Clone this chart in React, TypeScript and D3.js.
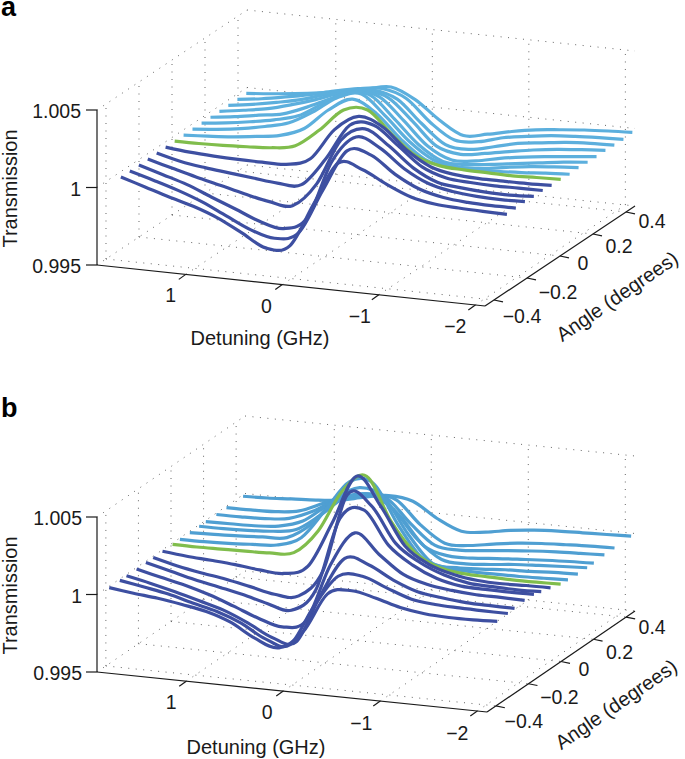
import * as d3 from "d3";

// detuning grid of each panel (GHz)
const detuningA = [1.8, 1.55, 1.3, 1.05, 0.8, 0.55, 0.3, 0.05, -0.2, -0.45, -0.7, -0.95, -1.2, -1.45, -1.7, -1.95, -2.2];
const detuningB = [1.85, 1.6, 1.35, 1.1, 0.85, 0.6, 0.35, 0.1, -0.15, -0.4, -0.65, -0.9, -1.15, -1.4, -1.65, -1.9, -2.15];

const anglesA = [-0.38, -0.326, -0.271, -0.217, -0.163, -0.109, -0.054, 0, 0.054, 0.109, 0.163, 0.217, 0.271, 0.326, 0.38];
const anglesB = [-0.421, -0.356, -0.315, -0.253, -0.196, -0.151, -0.094, -0.032, 0.013, 0.074, 0.131, 0.172, 0.237, 0.299, 0.401];

// transmission per curve, as (T - 1) x 1000, front curve first
const transmissionA = [
  [0.23, -0.25, -0.73, -1.17, -1.75, -2.54, -3.36, -3.06, -0.17, 2.6, 2.36, 1.58, 0.93, 0.62, 0.53, 0.48, 0.45],
  [0.23, -0.21, -0.69, -1.27, -2.01, -2.73, -3.12, -2.6, 0.31, 3.01, 2.9, 1.82, 1.04, 0.66, 0.51, 0.46, 0.47],
  [0.23, -0.23, -0.71, -1.34, -1.95, -2.58, -2.89, -1.99, 1.77, 3.51, 2.96, 1.8, 1.01, 0.66, 0.51, 0.46, 0.5],
  [0.23, -0.19, -0.6, -0.97, -1.35, -1.68, -1.79, -0.22, 2.76, 3.66, 2.71, 1.47, 0.71, 0.51, 0.4, 0.37, 0.45],
  [0.23, -0.15, -0.38, -0.55, -0.72, -0.88, -0.82, 1.0, 3.34, 3.51, 2.36, 1.15, 0.6, 0.47, 0.42, 0.44, 0.45],
  [0.23, 0.07, -0.02, -0.07, -0.08, -0.06, 0.47, 2.51, 3.53, 3.01, 1.67, 0.76, 0.43, 0.34, 0.34, 0.35, 0.39],
  [0.23, 0.24, 0.28, 0.36, 0.46, 0.75, 1.93, 3.39, 3.55, 2.15, 0.92, 0.44, 0.35, 0.32, 0.29, 0.35, 0.39],
  [0.23, 0.33, 0.45, 0.64, 0.87, 1.48, 2.84, 3.71, 2.93, 1.46, 0.32, -0.03, 0.0, 0.04, 0.12, 0.25, 0.34],
  [0.23, 0.39, 0.6, 0.9, 1.3, 2.17, 3.25, 3.65, 2.39, 0.9, -0.11, -0.38, -0.32, -0.09, 0.12, 0.27, 0.39],
  [0.23, 0.41, 0.65, 0.94, 1.36, 2.3, 3.18, 3.17, 1.81, 0.32, -0.59, -0.63, -0.45, -0.24, -0.03, 0.18, 0.34],
  [0.23, 0.43, 0.69, 0.94, 1.54, 2.26, 2.86, 2.7, 1.34, -0.15, -0.89, -0.78, -0.45, -0.2, -0.01, 0.16, 0.32],
  [0.23, 0.46, 0.73, 1.15, 1.64, 2.22, 2.56, 2.25, 0.91, -0.54, -0.9, -0.68, -0.4, -0.13, 0.08, 0.22, 0.34],
  [0.23, 0.46, 0.75, 1.09, 1.58, 2.0, 2.21, 1.78, 0.39, -0.82, -0.97, -0.63, -0.25, -0.05, 0.14, 0.25, 0.3],
  [0.23, 0.43, 0.71, 1.03, 1.41, 1.74, 1.91, 1.43, 0.05, -0.92, -0.86, -0.44, -0.19, 0.02, 0.14, 0.22, 0.28],
  [0.23, 0.37, 0.54, 0.75, 1.02, 1.33, 1.63, 0.98, -0.17, -1.01, -0.76, -0.42, -0.15, 0.02, 0.17, 0.27, 0.34],
];

const transmissionB = [
  [0.25, 0.05, -0.12, -0.36, -0.65, -1.18, -2.05, -2.51, -1.3, 1.29, 1.65, 1.33, 0.89, 0.65, 0.57, 0.58, 0.64],
  [0.25, -0.02, -0.31, -0.73, -1.11, -1.7, -2.56, -2.79, -0.14, 1.96, 2.12, 1.53, 0.98, 0.78, 0.72, 0.69, 0.68],
  [0.25, -0.08, -0.46, -0.88, -1.32, -1.98, -2.76, -2.88, 0.29, 2.82, 2.55, 1.74, 1.15, 0.92, 0.77, 0.73, 0.72],
  [0.25, -0.13, -0.48, -0.94, -1.51, -2.11, -2.52, -1.93, 1.82, 4.02, 2.79, 1.66, 1.17, 0.95, 0.83, 0.82, 0.79],
  [0.25, -0.13, -0.52, -0.84, -1.17, -1.58, -1.86, -0.41, 4.38, 5.08, 2.98, 1.85, 1.15, 0.82, 0.77, 0.75, 0.77],
  [0.25, -0.13, -0.42, -0.66, -0.98, -1.31, -1.26, 0.52, 5.58, 5.03, 2.77, 1.7, 1.05, 0.69, 0.62, 0.58, 0.62],
  [0.25, 0.09, -0.01, -0.13, -0.31, -0.38, 0.25, 3.21, 6.38, 4.6, 2.19, 1.16, 0.68, 0.45, 0.4, 0.45, 0.46],
  [0.25, 0.24, 0.27, 0.3, 0.34, 0.52, 2.08, 4.82, 5.93, 3.2, 1.32, 0.52, 0.29, 0.24, 0.21, 0.22, 0.25],
  [0.25, 0.26, 0.31, 0.41, 0.53, 1.16, 3.11, 5.1, 5.11, 2.62, 0.64, 0.19, 0.1, 0.09, 0.1, 0.15, 0.21],
  [0.25, 0.3, 0.36, 0.45, 0.57, 1.59, 3.37, 4.28, 3.8, 1.59, -0.12, -0.24, -0.18, -0.06, -0.01, 0.09, 0.14],
  [0.25, 0.26, 0.31, 0.41, 0.68, 1.77, 3.05, 3.42, 2.62, 0.84, -0.29, -0.41, -0.29, -0.13, -0.03, 0.06, 0.14],
  [0.25, 0.28, 0.31, 0.45, 0.94, 2.07, 2.83, 3.08, 1.91, 0.13, -0.35, -0.34, -0.2, -0.09, 0.01, 0.09, 0.14],
  [0.25, 0.26, 0.31, 0.48, 1.11, 2.05, 2.46, 2.45, 0.96, -0.28, -0.44, -0.32, -0.16, -0.02, 0.08, 0.15, 0.21],
  [0.25, 0.26, 0.31, 0.52, 1.17, 1.83, 2.08, 1.87, 0.42, -0.6, -0.59, -0.34, -0.12, 0.02, 0.1, 0.17, 0.21],
  [0.25, 0.3, 0.4, 0.48, 0.64, 0.99, 1.26, 1.05, 0.1, -0.56, -0.46, -0.19, -0.01, 0.09, 0.14, 0.19, 0.25],
];

const detuningTicks = [1, 0, -1, -2];
const angleTicks = [-0.4, -0.2, 0, 0.2, 0.4];
const angleTickLabels = ["\u22120.4", "\u22120.2", "0", "0.2", "0.4"];
const detuningTickLabels = ["1", "0", "\u22121", "\u22122"];
const zTicks = [-5, 0, 5];
const zTickLabels = ["0.995", "1", "1.005"];

// hand placed label offsets from the tick base
const angleNudgeX = [28, 31, 23, 26, 26];
const angleNudgeY = [22.5, 20.5, 14, 19.5, 16.5];
const detuningNudgeX = [-15, -16, -19, -20];
const detuningNudgeY = [27.5, 28, 28.5, 28.5];

const DARK = "#3d4fa1";
const GREEN = "#80bd4c";
const DOT = "#666";
const FONT = "'Liberation Sans', Arial, sans-serif";
const dRange = [1.92, -2.1];
const aRange = [-0.4545, 0.4545];

function Panel({ letter, letterY, ox, oy, dx, dy, ax, ay, angles, detuning, values, greenIdx, light, zRight, zY, titleX, titleY, angleX, angleY }: any) {
  const xD = d3.scaleLinear().domain(dRange).range([0, dx]);
  const yD = d3.scaleLinear().domain(dRange).range([0, dy]);
  const xA = d3.scaleLinear().domain(aRange).range([0, ax]);
  const yA = d3.scaleLinear().domain(aRange).range([0, ay]);
  const yZ = d3.scaleLinear().domain([-5, 5]).range([0, -155]);
  const px = (d: number, a: number) => ox + xD(d) + xA(a);
  const py = (d: number, a: number, z: number) => oy + yD(d) + yA(a) + yZ(z);

  const d0 = dRange[0], d1 = dRange[1], a0 = aRange[0], a1 = aRange[1];
  // dotted grid on the floor and two back walls, as pairs of [d, a, z] ends
  const grid: number[][][] = [];
  detuningTicks.forEach((d) => {
    grid.push([[d, a0, -5], [d, a1, -5]]);
    grid.push([[d, a1, -5], [d, a1, 5]]);
  });
  angleTicks.forEach((a) => {
    grid.push([[d0, a, -5], [d1, a, -5]]);
    grid.push([[d0, a, -5], [d0, a, 5]]);
  });
  zTicks.forEach((z) => {
    grid.push([[d0, a0, z], [d0, a1, z]]);
    grid.push([[d0, a1, z], [d1, a1, z]]);
  });

  const curvePath = (vals: number[], a: number) =>
    d3
      .line<number>()
      .x((_, k) => px(detuning[k], a))
      .y((v, k) => py(detuning[k], a, v))
      .curve(d3.curveCatmullRom.alpha(0))(vals) as string;

  const order = d3.range(values.length).reverse();

  return (
    <g fontFamily={FONT} fill="#1a1a1a">
      <text x={1} y={letterY} fontSize={27} fontWeight="bold" fill="#000">{letter}</text>
      {grid.map((g, i) => (
        <line
          key={i}
          x1={px(g[0][0], g[0][1])}
          y1={py(g[0][0], g[0][1], g[0][2])}
          x2={px(g[1][0], g[1][1])}
          y2={py(g[1][0], g[1][1], g[1][2])}
          stroke={DOT}
          strokeWidth={1}
          strokeDasharray="1 6.5"
        />
      ))}
      {order.map((i) => (
        <path
          key={i}
          d={curvePath(values[i], angles[i])}
          fill="none"
          stroke={i === greenIdx ? GREEN : i > greenIdx ? light : DARK}
          strokeWidth={3.2}
        />
      ))}
      {/* solid axes */}
      <g stroke="#1a1a1a" strokeWidth={1.2}>
        <line x1={px(d0, a0)} y1={py(d0, a0, -5)} x2={px(d0, a0)} y2={py(d0, a0, 5)} />
        <line x1={px(d0, a0)} y1={py(d0, a0, -5)} x2={px(d1, a0)} y2={py(d1, a0, -5)} />
        <line x1={px(d1, a0)} y1={py(d1, a0, -5)} x2={px(d1, a1)} y2={py(d1, a1, -5)} />
        {zTicks.map((z) => (
          <line key={z} x1={px(d0, a0) - 11} y1={py(d0, a0, z)} x2={px(d0, a0)} y2={py(d0, a0, z)} />
        ))}
        {detuningTicks.map((d) => (
          <line key={d} x1={px(d, a0)} y1={py(d, a0, -5)} x2={px(d, a0) - 7} y2={py(d, a0, -5) + 5} />
        ))}
        {angleTicks.map((a) => (
          <line key={a} x1={px(d1, a)} y1={py(d1, a, -5)} x2={px(d1, a) + 9} y2={py(d1, a, -5) + 1.8} />
        ))}
      </g>
      <g fontSize={19.5}>
        {zTicks.map((z, i) => (
          <text key={z} x={zRight} y={py(d0, a0, z) + zY} textAnchor="end">{zTickLabels[i]}</text>
        ))}
        {detuningTicks.map((d, i) => (
          <text key={d} x={px(d, a0) + detuningNudgeX[i]} y={py(d, a0, -5) + detuningNudgeY[i]} textAnchor="middle">{detuningTickLabels[i]}</text>
        ))}
        {angleTicks.map((a, i) => (
          <text key={a} x={px(d1, a) + angleNudgeX[i]} y={py(d1, a, -5) + angleNudgeY[i]} textAnchor="middle">{angleTickLabels[i]}</text>
        ))}
      </g>
      <g fontSize={20}>
        <text textAnchor="middle" transform={`translate(17,${py(d0, a0, 0) + 1}) rotate(-90)`}>Transmission</text>
        <text x={titleX} y={titleY} textAnchor="middle">Detuning (GHz)</text>
        <text textAnchor="middle" transform={`translate(${angleX},${angleY}) rotate(-34.5)`}>Angle (degrees)</text>
      </g>
    </g>
  );
}

export default function App() {
  return (
    <svg width={685} height={759} style={{ position: "absolute", left: 0, top: 0, background: "#fff" }}>
      <Panel
        letter="a" letterY={16}
        ox={97} oy={265} dx={388} dy={41} ax={150} ay={-100}
        angles={anglesA} detuning={detuningA} values={transmissionA} greenIdx={6} light="#5cafdd"
        zRight={81} zY={8} titleX={260} titleY={345} angleX={621} angleY={302}
      />
      <Panel
        letter="b" letterY={417}
        ox={97} oy={672} dx={390} dy={40} ax={148} ay={-101}
        angles={anglesB} detuning={detuningB} values={transmissionB} greenIdx={7} light="#4f9fd2"
        zRight={82} zY={8} titleX={256} titleY={754} angleX={620} angleY={710}
      />
    </svg>
  );
}
